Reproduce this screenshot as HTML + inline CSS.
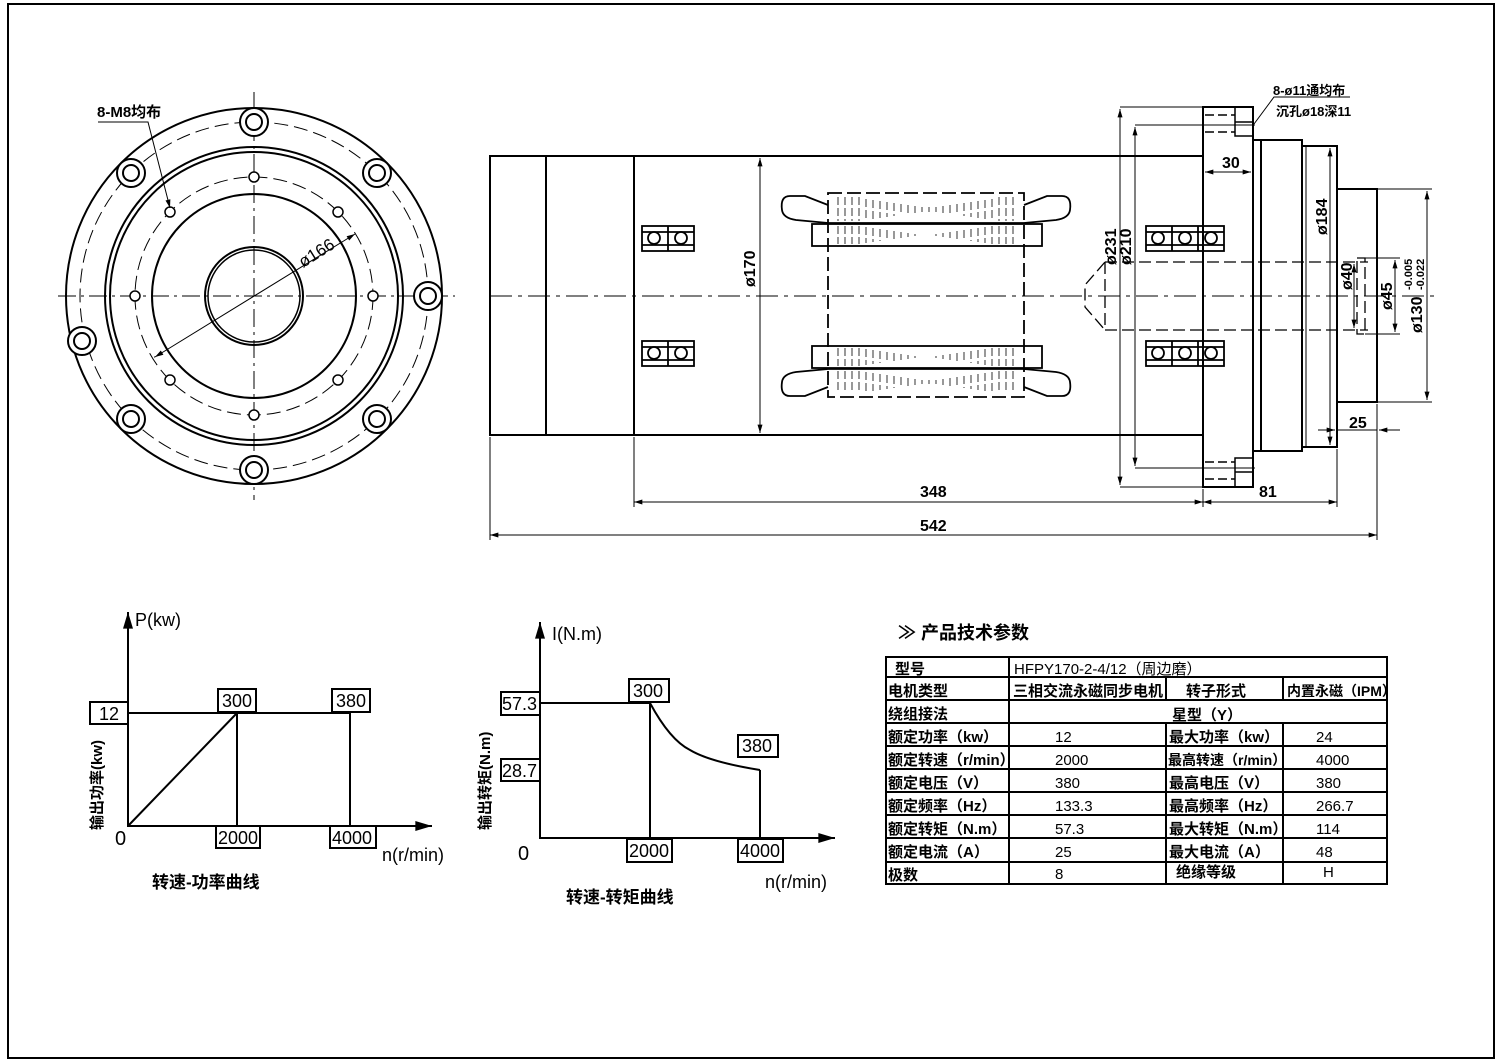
<!DOCTYPE html>
<html><head><meta charset="utf-8"><style>
html,body{margin:0;padding:0;background:#fff}
svg{display:block}
text{font-family:"Liberation Sans","Noto Sans CJK SC",sans-serif;fill:#000}
</style></head><body>
<svg width="1500" height="1062" viewBox="0 0 1500 1062" xmlns="http://www.w3.org/2000/svg">
<defs>
<marker id="ar" viewBox="0 0 10 6" refX="10" refY="3" markerWidth="12" markerHeight="5" orient="auto-start-reverse" markerUnits="userSpaceOnUse"><path d="M0,0 L10,3 L0,6z" fill="#000"/></marker>
<marker id="ab" viewBox="0 0 10 6" refX="10" refY="3" markerWidth="28" markerHeight="10" orient="auto" markerUnits="userSpaceOnUse"><path d="M0,0 L10,3 L0,6z" fill="#000"/></marker>
</defs>
<rect x="8" y="4" width="1486" height="1054" fill="none" stroke="#000" stroke-width="2"/>

<!-- LEFT FLANGE VIEW -->
<g fill="none" stroke="#000" stroke-width="2">
<circle cx="254" cy="296" r="188"/>
<circle cx="254" cy="296" r="149"/>
<circle cx="254" cy="296" r="144"/>
<circle cx="254" cy="296" r="102"/>
<circle cx="254" cy="296" r="49"/>
<circle cx="254" cy="296" r="46" stroke-width="1.5"/>
</g>
<g fill="none" stroke="#000" stroke-width="1" stroke-dasharray="14,6">
<circle cx="254" cy="296" r="174"/>
<circle cx="254" cy="296" r="119"/>
</g>
<g stroke="#000" stroke-width="1" stroke-dasharray="18,5,3,5">
<line x1="58" y1="296" x2="455" y2="296"/>
<line x1="254" y1="92" x2="254" y2="500"/>
</g>
<g fill="#fff" stroke="#000" stroke-width="2">
<circle cx="254" cy="122" r="14"/><circle cx="254" cy="122" r="8"/>
<circle cx="254" cy="470" r="14"/><circle cx="254" cy="470" r="8"/>
<circle cx="428" cy="296" r="14"/><circle cx="428" cy="296" r="8"/>
<circle cx="131" cy="173" r="14"/><circle cx="131" cy="173" r="8"/>
<circle cx="377" cy="173" r="14"/><circle cx="377" cy="173" r="8"/>
<circle cx="131" cy="419" r="14"/><circle cx="131" cy="419" r="8"/>
<circle cx="377" cy="419" r="14"/><circle cx="377" cy="419" r="8"/>
<circle cx="82" cy="341" r="14"/><circle cx="82" cy="341" r="8"/>
</g>
<g fill="#fff" stroke="#000" stroke-width="1.5">
<circle cx="254" cy="177" r="5"/><circle cx="254" cy="415" r="5"/>
<circle cx="135" cy="296" r="5"/><circle cx="373" cy="296" r="5"/>
<circle cx="170" cy="212" r="5"/><circle cx="338" cy="212" r="5"/>
<circle cx="170" cy="380" r="5"/><circle cx="338" cy="380" r="5"/>
</g>
<line x1="155" y1="357" x2="355" y2="234" stroke="#000" stroke-width="1" marker-start="url(#ar)" marker-end="url(#ar)"/>
<line x1="155" y1="357" x2="154" y2="357" stroke="#000"/>
<text x="0" y="0" font-size="17" transform="translate(303,268) rotate(-32)">ø166</text>
<text x="97" y="117" font-size="15" font-weight="bold">8-M8均布</text>
<polyline points="98,122 148,122 170,208" fill="none" stroke="#000" stroke-width="1" marker-end="url(#ar)"/>

<!-- SIDE VIEW -->
<g fill="none" stroke="#000" stroke-width="2">
<rect x="490" y="156" width="713" height="279"/>
<line x1="546" y1="156" x2="546" y2="435"/>
<line x1="634" y1="156" x2="634" y2="435"/>
<rect x="1203" y="107" width="50" height="380"/>
<rect x="1253" y="140" width="8" height="311"/>
<rect x="1261" y="140" width="41" height="311"/>
<rect x="1302" y="146" width="35" height="301"/>
<line x1="1306" y1="146" x2="1306" y2="447" stroke-width="1"/>
<rect x="1337" y="189" width="40" height="213"/>
</g>
<!-- flange counterbores -->
<g stroke="#000" stroke-width="1.5" fill="none">
<path d="M1235,107 V136 H1253"/><path d="M1235,122 H1253"/>
<path d="M1235,487 V458 H1253"/><path d="M1235,472 H1253"/>
</g>
<g stroke="#000" stroke-width="1.5" stroke-dasharray="9,4">
<line x1="1205" y1="115" x2="1235" y2="115"/><line x1="1205" y1="132" x2="1235" y2="132"/>
<line x1="1205" y1="462" x2="1235" y2="462"/><line x1="1205" y1="479" x2="1235" y2="479"/>
</g>
<!-- centerline -->
<line x1="490" y1="296" x2="1440" y2="296" stroke="#000" stroke-width="1" stroke-dasharray="22,6,4,6"/>
<!-- bore dashed -->
<g stroke="#000" stroke-width="1.3" stroke-dasharray="12,5" fill="none">
<line x1="1105" y1="262" x2="1368" y2="262"/>
<line x1="1105" y1="330" x2="1368" y2="330"/>
<polyline points="1105,262 1085,285 1085,307 1105,330"/>
<line x1="1105" y1="262" x2="1105" y2="330"/>
<rect x="1357" y="258" width="8" height="76"/>
</g>
<!-- terminal blocks -->
<g fill="none" stroke="#000" stroke-width="1.8">
<rect x="642" y="226" width="52" height="25"/><line x1="668" y1="226" x2="668" y2="251"/><line x1="642" y1="232" x2="694" y2="232"/><line x1="642" y1="245" x2="694" y2="245"/>
<circle cx="654" cy="238" r="6" fill="#fff"/><circle cx="681" cy="238" r="6" fill="#fff"/>
<rect x="642" y="341" width="52" height="25"/><line x1="668" y1="341" x2="668" y2="366"/><line x1="642" y1="347" x2="694" y2="347"/><line x1="642" y1="360" x2="694" y2="360"/>
<circle cx="654" cy="353" r="6" fill="#fff"/><circle cx="681" cy="353" r="6" fill="#fff"/>
<rect x="1146" y="226" width="78" height="25"/><line x1="1172" y1="226" x2="1172" y2="251"/><line x1="1198" y1="226" x2="1198" y2="251"/><line x1="1146" y1="232" x2="1224" y2="232"/><line x1="1146" y1="245" x2="1224" y2="245"/>
<circle cx="1158" cy="238" r="6" fill="#fff"/><circle cx="1185" cy="238" r="6" fill="#fff"/><circle cx="1211" cy="238" r="6" fill="#fff"/>
<rect x="1146" y="341" width="78" height="25"/><line x1="1172" y1="341" x2="1172" y2="366"/><line x1="1198" y1="341" x2="1198" y2="366"/><line x1="1146" y1="347" x2="1224" y2="347"/><line x1="1146" y1="360" x2="1224" y2="360"/>
<circle cx="1158" cy="353" r="6" fill="#fff"/><circle cx="1185" cy="353" r="6" fill="#fff"/><circle cx="1211" cy="353" r="6" fill="#fff"/>
</g>
<!-- stator -->
<g fill="none" stroke="#000" stroke-width="1.8">
<rect x="828" y="193" width="196" height="204" stroke-dasharray="14,5"/>
<line x1="828" y1="223" x2="1024" y2="223"/>
<line x1="828" y1="369" x2="1024" y2="369"/>
<rect x="812" y="224" width="230" height="22"/>
<rect x="812" y="346" width="230" height="22"/>
<path d="M828,205 L805,196 H790 Q780,196 782,210 Q783,218 796,220 L828,223"/>
<path d="M1024,205 L1047,196 H1062 Q1072,196 1070,210 Q1069,218 1056,220 L1024,223"/>
<path d="M828,387 L805,396 H790 Q780,396 782,382 Q783,374 796,372 L828,369"/>
<path d="M1024,387 L1047,396 H1062 Q1072,396 1070,382 Q1069,374 1056,372 L1024,369"/>
</g>
<g stroke="#555" stroke-width="1.2" stroke-dasharray="8,3">
<path d="M838,197V221M845,197V221M852,197V221M859,197V221M866,199V220M873,200V219M880,201V218M887,202V217M894,203V216M901,204V215M908,205V214M915,206V213M922,207V212M929,207V212M936,207V212M943,206V213M950,205V214M957,204V215M964,203V216M971,202V217M978,201V218M985,200V219M992,199V220M999,197V221M1006,197V221M1013,197V221"/>
<path d="M838,226V244M845,226V244M852,226V244M859,226V244M866,227V243M873,228V242M880,229V241M887,230V240M894,231V239M901,232V238M908,233V237M915,234V236M936,234V236M943,233V237M950,232V238M957,231V239M964,230V240M971,229V241M978,228V242M985,227V243M992,226V244M999,226V244M1006,226V244M1013,226V244"/>
<path d="M838,348V366M845,348V366M852,348V366M859,348V366M866,349V365M873,350V364M880,351V363M887,352V362M894,353V361M901,354V360M908,355V359M915,356V358M936,356V358M943,355V359M950,354V360M957,353V361M964,352V362M971,351V363M978,350V364M985,349V365M992,348V366M999,348V366M1006,348V366M1013,348V366"/>
<path d="M838,371V393M845,371V393M852,371V393M859,371V393M866,372V392M873,373V391M880,374V390M887,375V389M894,376V388M901,377V387M908,378V386M915,379V385M922,380V384M929,380V384M936,380V384M943,379V385M950,378V386M957,377V387M964,376V388M971,375V389M978,374V390M985,373V391M992,372V392M999,371V393M1006,371V393M1013,371V393"/>
</g>
<!-- dimensions -->
<g stroke="#000" stroke-width="1" fill="none">
<line x1="760" y1="158" x2="760" y2="433" marker-start="url(#ar)" marker-end="url(#ar)"/>
<line x1="490" y1="437" x2="490" y2="540"/>
<line x1="634" y1="437" x2="634" y2="507"/>
<line x1="1203" y1="489" x2="1203" y2="507"/>
<line x1="1337" y1="449" x2="1337" y2="507"/>
<line x1="1377" y1="404" x2="1377" y2="540"/>
<line x1="634" y1="502" x2="1203" y2="502" marker-start="url(#ar)" marker-end="url(#ar)"/>
<line x1="1203" y1="502" x2="1337" y2="502" marker-start="url(#ar)" marker-end="url(#ar)"/>
<line x1="490" y1="535" x2="1377" y2="535" marker-start="url(#ar)" marker-end="url(#ar)"/>
<line x1="1120" y1="107" x2="1203" y2="107"/><line x1="1120" y1="487" x2="1203" y2="487"/>
<line x1="1135" y1="125" x2="1255" y2="125"/><line x1="1135" y1="468" x2="1255" y2="468"/>
<line x1="1120" y1="109" x2="1120" y2="485" marker-start="url(#ar)" marker-end="url(#ar)"/>
<line x1="1135" y1="127" x2="1135" y2="466" marker-start="url(#ar)" marker-end="url(#ar)"/>
<line x1="1330" y1="148" x2="1330" y2="445" marker-start="url(#ar)" marker-end="url(#ar)"/>
<line x1="1354" y1="264" x2="1354" y2="328" marker-start="url(#ar)" marker-end="url(#ar)"/>
<line x1="1365" y1="258" x2="1400" y2="258"/><line x1="1365" y1="334" x2="1400" y2="334"/>
<line x1="1395" y1="260" x2="1395" y2="332" marker-start="url(#ar)" marker-end="url(#ar)"/>
<line x1="1377" y1="189" x2="1432" y2="189"/><line x1="1377" y1="402" x2="1432" y2="402"/>
<line x1="1427" y1="191" x2="1427" y2="400" marker-start="url(#ar)" marker-end="url(#ar)"/>
<line x1="1205" y1="172" x2="1251" y2="172" marker-start="url(#ar)" marker-end="url(#ar)"/>
<line x1="1318" y1="430" x2="1335" y2="430" marker-end="url(#ar)"/>
<line x1="1400" y1="430" x2="1379" y2="430" marker-end="url(#ar)"/>
<line x1="1377" y1="430" x2="1337" y2="430"/>
<polyline points="1254,124 1274,97 1350,97"/>
</g>
<g font-size="16" font-weight="bold">
<text x="0" y="0" transform="translate(755,287) rotate(-90)">ø170</text>
<text x="0" y="0" transform="translate(1116,265) rotate(-90)">ø231</text>
<text x="0" y="0" transform="translate(1131,265) rotate(-90)">ø210</text>
<text x="0" y="0" transform="translate(1327,235) rotate(-90)">ø184</text>
<text x="0" y="0" transform="translate(1352,290) rotate(-90)">ø40</text>
<text x="0" y="0" transform="translate(1392,310) rotate(-90)">ø45</text>
<text x="0" y="0" transform="translate(1422,333) rotate(-90)">ø130</text>
<text x="0" y="0" font-size="11" transform="translate(1412,290) rotate(-90)">-0.005</text>
<text x="0" y="0" font-size="11" transform="translate(1424,290) rotate(-90)">-0.022</text>
<text x="920" y="497">348</text>
<text x="1259" y="497">81</text>
<text x="920" y="531">542</text>
<text x="1222" y="168">30</text>
<text x="1349" y="428">25</text>
<text x="1273" y="95" font-size="13">8-ø11通均布</text>
<text x="1276" y="116" font-size="13">沉孔ø18深11</text>
</g>

<!-- CHART 1 -->
<g stroke="#000" stroke-width="2" fill="none">
<line x1="128" y1="827" x2="128" y2="612" marker-end="url(#ab)"/>
<line x1="128" y1="826" x2="432" y2="826" marker-end="url(#ab)"/>
<line x1="128" y1="713" x2="350" y2="713"/>
<line x1="128" y1="826" x2="237" y2="713"/>
<line x1="237" y1="713" x2="237" y2="826"/>
<line x1="350" y1="713" x2="350" y2="826"/>
<rect x="90" y="702" width="38" height="22" fill="#fff"/>
<rect x="218" y="689" width="38" height="23" fill="#fff"/>
<rect x="332" y="689" width="38" height="23" fill="#fff"/>
<rect x="216" y="826" width="44" height="22" fill="#fff"/>
<rect x="330" y="826" width="46" height="22" fill="#fff"/>
</g>
<g font-size="18">
<text x="99" y="720">12</text>
<text x="222" y="707">300</text>
<text x="336" y="707">380</text>
<text x="218" y="844">2000</text>
<text x="332" y="844">4000</text>
<text x="115" y="845" font-size="20">0</text>
<text x="135" y="626">P(kw)</text>
<text x="382" y="861">n(r/min)</text>
<text x="152" y="888" font-weight="bold" font-size="17">转速-功率曲线</text>
<text x="0" y="0" font-size="15" font-weight="bold" transform="translate(102,830) rotate(-90)">输出功率(kw)</text>
</g>

<!-- CHART 2 -->
<g stroke="#000" stroke-width="2" fill="none">
<line x1="540" y1="839" x2="540" y2="622" marker-end="url(#ab)"/>
<line x1="540" y1="838" x2="835" y2="838" marker-end="url(#ab)"/>
<line x1="540" y1="703" x2="650" y2="703"/>
<path d="M650,703 Q670,740 690,750 Q710,762 760,770"/>
<line x1="650" y1="703" x2="650" y2="838"/>
<line x1="760" y1="770" x2="760" y2="838"/>
<rect x="501" y="692" width="39" height="23" fill="#fff"/>
<rect x="501" y="759" width="39" height="22" fill="#fff"/>
<rect x="629" y="679" width="40" height="23" fill="#fff"/>
<rect x="738" y="735" width="40" height="22" fill="#fff"/>
<rect x="627" y="839" width="45" height="23" fill="#fff"/>
<rect x="738" y="839" width="45" height="23" fill="#fff"/>
</g>
<g font-size="18">
<text x="502" y="710">57.3</text>
<text x="502" y="777">28.7</text>
<text x="633" y="697">300</text>
<text x="742" y="752">380</text>
<text x="629" y="857">2000</text>
<text x="740" y="857">4000</text>
<text x="518" y="860" font-size="20">0</text>
<text x="552" y="640">I(N.m)</text>
<text x="765" y="888">n(r/min)</text>
<text x="566" y="903" font-weight="bold" font-size="17">转速-转矩曲线</text>
<text x="0" y="0" font-size="15" font-weight="bold" transform="translate(490,830) rotate(-90)">输出转矩(N.m)</text>
</g>

<!-- TABLE -->
<text x="898" y="639" font-size="18" font-weight="bold">≫ 产品技术参数</text>
<g stroke="#000" stroke-width="2" fill="none">
<rect x="886" y="657" width="501" height="227"/>
<line x1="886" y1="677" x2="1387" y2="677"/>
<line x1="886" y1="700" x2="1387" y2="700"/>
<line x1="886" y1="723" x2="1387" y2="723"/>
<line x1="886" y1="746" x2="1387" y2="746"/>
<line x1="886" y1="769" x2="1387" y2="769"/>
<line x1="886" y1="792" x2="1387" y2="792"/>
<line x1="886" y1="815" x2="1387" y2="815"/>
<line x1="886" y1="838" x2="1387" y2="838"/>
<line x1="886" y1="862" x2="1387" y2="862"/>
<line x1="1009" y1="657" x2="1009" y2="884"/>
<line x1="1166" y1="677" x2="1166" y2="700"/>
<line x1="1166" y1="723" x2="1166" y2="884"/>
<line x1="1283" y1="677" x2="1283" y2="700"/>
<line x1="1283" y1="723" x2="1283" y2="884"/>
</g>
<g font-size="15" font-weight="bold">
<text x="895" y="674">型号</text>
<text x="1014" y="674" font-weight="normal">HFPY170-2-4/12（周边磨）</text>
<text x="888" y="696">电机类型</text><text x="1013" y="696">三相交流永磁同步电机</text><text x="1186" y="696">转子形式</text><text x="1287" y="696" font-size="14">内置永磁（IPM）</text>
<text x="888" y="719">绕组接法</text><text x="1172" y="720">星型（Y）</text>
<text x="888" y="742">额定功率（kw）</text><text x="1055" y="742" font-weight="normal">12</text><text x="1169" y="742">最大功率（kw）</text><text x="1316" y="742" font-weight="normal">24</text>
<text x="888" y="765">额定转速（r/min）</text><text x="1055" y="765" font-weight="normal">2000</text><text x="1168" y="765" font-size="14">最高转速（r/min）</text><text x="1316" y="765" font-weight="normal">4000</text>
<text x="888" y="788">额定电压（V）</text><text x="1055" y="788" font-weight="normal">380</text><text x="1169" y="788">最高电压（V）</text><text x="1316" y="788" font-weight="normal">380</text>
<text x="888" y="811">额定频率（Hz）</text><text x="1055" y="811" font-weight="normal">133.3</text><text x="1169" y="811">最高频率（Hz）</text><text x="1316" y="811" font-weight="normal">266.7</text>
<text x="888" y="834">额定转矩（N.m）</text><text x="1055" y="834" font-weight="normal">57.3</text><text x="1169" y="834">最大转矩（N.m）</text><text x="1316" y="834" font-weight="normal">114</text>
<text x="888" y="857">额定电流（A）</text><text x="1055" y="857" font-weight="normal">25</text><text x="1169" y="857">最大电流（A）</text><text x="1316" y="857" font-weight="normal">48</text>
<text x="888" y="880">极数</text><text x="1055" y="879" font-weight="normal">8</text><text x="1176" y="877">绝缘等级</text><text x="1323" y="877" font-weight="normal">H</text>
</g>
</svg>
</body></html>
